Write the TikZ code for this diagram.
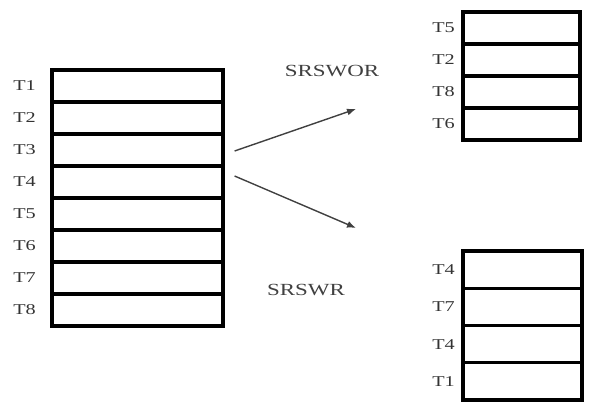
\documentclass[tikz,border=0pt]{standalone}
\usepackage{fontspec}
\setmainfont{Liberation Serif}[FakeStretch=1.35]
\usetikzlibrary{arrows.meta}
\begin{document}
\begin{tikzpicture}[x=1pt,y=-1pt,
  cell/.style={draw=black,line width=3.2pt,fill=white,inner sep=0pt},
  lab/.style={font=\fontsize{15}{15}\selectfont,text=black!80,inner sep=0pt,anchor=east},
  tag/.style={font=\fontsize{17}{17}\selectfont,text=black!75,inner sep=0pt},
  link/.style={draw=black!75,line width=1.4pt,-{Latex[length=9pt,width=7pt]}}]
\useasboundingbox (0,0) rectangle (594,406);
% population: eight tuples
\foreach \i in {1,...,8} {
  \node[cell,minimum width=171pt,minimum height=32pt] (p\i) at (137.5,{70+32*(\i-1)+16}) {};
  \node[lab] (pl\i) at (36,{70+32*(\i-1)+16}) {T\i};
}
% sample drawn without replacement
\foreach \t [count=\i] in {5,2,8,6} {
  \node[cell,minimum width=117pt,minimum height=32pt] (a\i) at (521.5,{12+32*(\i-1)+16}) {};
  \node[lab] (al\i) at (455,{12+32*(\i-1)+16}) {T\t};
}
% sample drawn with replacement
\foreach \t [count=\i] in {4,7,4,1} {
  \node[cell,minimum width=119pt,minimum height=37.25pt] (b\i) at (522.5,{251+37.25*(\i-1)+18.6}) {};
  \node[lab] (bl\i) at (455,{251+37.25*(\i-1)+18.6}) {T\t};
}
% sampling arrows
\coordinate (s1) at ([xshift=10pt,yshift=-1pt]p3.east);
\coordinate (e1) at (356,109);
\coordinate (s2) at ([xshift=10pt,yshift=6pt]p4.east);
\coordinate (e2) at (356,228);
\draw[link] (s1) -- (e1);
\draw[link] (s2) -- (e2);
\node[tag] (wor) at (332,71) {SRSWOR};
\node[tag] (wr) at (306,290) {SRSWR};
\end{tikzpicture}
\end{document}
